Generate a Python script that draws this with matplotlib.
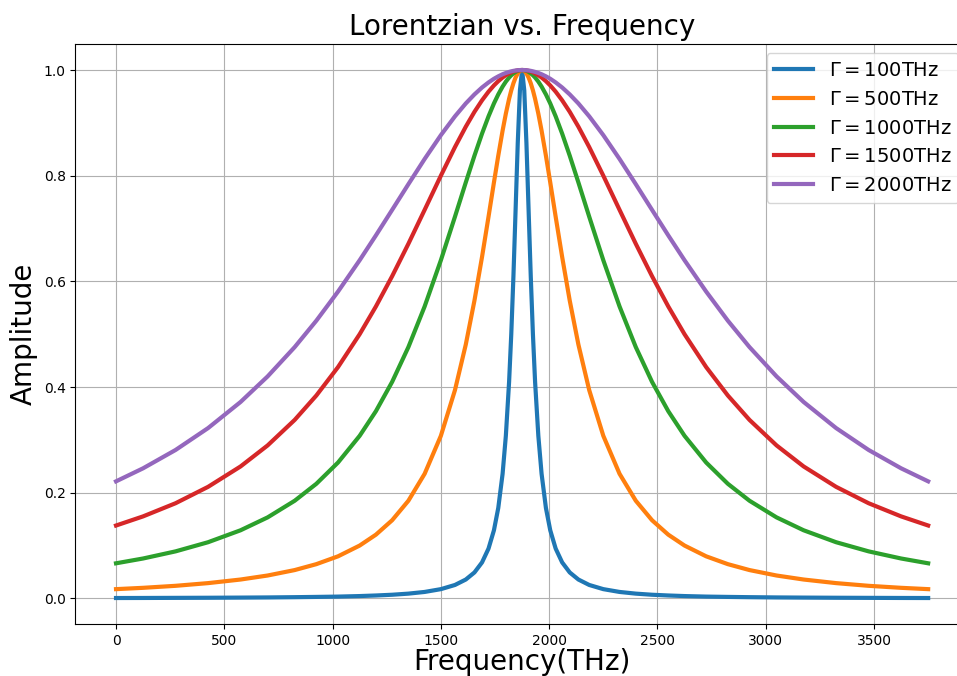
import matplotlib
matplotlib.use('Agg')
import matplotlib.pyplot as plt

# frequency samples (THz), denser around the peak at ~1875
freq = [0, 125, 275, 425, 575, 700, 825, 925, 1025, 1125, 1200, 1275, 1350,
        1425, 1500, 1565, 1615, 1655, 1690, 1720, 1745, 1765, 1785, 1800,
        1815, 1825, 1835, 1845, 1855, 1865, 1875,
        1885, 1895, 1905, 1915, 1925, 1935, 1950, 1965, 1985, 2005, 2030,
        2060, 2095, 2135, 2185, 2250, 2325, 2400, 2475, 2550, 2625, 2725,
        2825, 2925, 3050, 3175, 3325, 3475, 3625, 3750]

widths = [100, 500, 1000, 1500, 2000]

amp_100 = [0.0007, 0.0008, 0.0010, 0.0012, 0.0015, 0.0018, 0.0023, 0.0028,
           0.0034, 0.0044, 0.0055, 0.0069, 0.0090, 0.0122, 0.0175, 0.0254,
           0.0357, 0.0491, 0.0681, 0.0943, 0.1289, 0.1712, 0.2358, 0.3077,
           0.4098, 0.5000, 0.6098, 0.7353, 0.8621, 0.9615, 1.0,
           0.9615, 0.8621, 0.7353, 0.6098, 0.5000, 0.4098, 0.3077, 0.2358,
           0.1712, 0.1289, 0.0943, 0.0681, 0.0491, 0.0357, 0.0254, 0.0175,
           0.0122, 0.0090, 0.0069, 0.0055, 0.0044, 0.0034, 0.0028, 0.0023,
           0.0018, 0.0015, 0.0012, 0.0010, 0.0008, 0.0007]
amp_500 = [0.0175, 0.0200, 0.0238, 0.0289, 0.0357, 0.0433, 0.0536, 0.0648,
           0.0796, 0.1000, 0.1206, 0.1479, 0.1848, 0.2358, 0.3077, 0.3941,
           0.4804, 0.5636, 0.6462, 0.7223, 0.7872, 0.8378, 0.8853, 0.9174,
           0.9455, 0.9615, 0.9750, 0.9858, 0.9936, 0.9984, 1.0,
           0.9984, 0.9936, 0.9858, 0.9750, 0.9615, 0.9455, 0.9174, 0.8853,
           0.8378, 0.7872, 0.7223, 0.6462, 0.5636, 0.4804, 0.3941, 0.3077,
           0.2358, 0.1848, 0.1479, 0.1206, 0.1000, 0.0796, 0.0648, 0.0536,
           0.0433, 0.0357, 0.0289, 0.0238, 0.0200, 0.0175]
amp_1000 = [0.0664, 0.0755, 0.0890, 0.1063, 0.1289, 0.1533, 0.1848, 0.2169,
            0.2571, 0.3077, 0.3543, 0.4098, 0.4756, 0.5525, 0.6400, 0.7223,
            0.7872, 0.8378, 0.8796, 0.9123, 0.9367, 0.9538, 0.9686, 0.9780,
            0.9858, 0.9901, 0.9936, 0.9964, 0.9984, 0.9996, 1.0,
            0.9996, 0.9984, 0.9964, 0.9936, 0.9901, 0.9858, 0.9780, 0.9686,
            0.9538, 0.9367, 0.9123, 0.8796, 0.8378, 0.7872, 0.7223, 0.6400,
            0.5525, 0.4756, 0.4098, 0.3543, 0.3077, 0.2571, 0.2169, 0.1848,
            0.1533, 0.1289, 0.1063, 0.0890, 0.0755, 0.0664]
amp_1500 = [0.1379, 0.1552, 0.1801, 0.2111, 0.2497, 0.2895, 0.3378, 0.3840,
            0.4377, 0.5000, 0.5525, 0.6098, 0.6711, 0.7353, 0.8000, 0.8541,
            0.8927, 0.9208, 0.9426, 0.9590, 0.9708, 0.9789, 0.9858, 0.9901,
            0.9936, 0.9956, 0.9972, 0.9984, 0.9993, 0.9998, 1.0,
            0.9998, 0.9993, 0.9984, 0.9972, 0.9956, 0.9936, 0.9901, 0.9858,
            0.9789, 0.9708, 0.9590, 0.9426, 0.9208, 0.8927, 0.8541, 0.8000,
            0.7353, 0.6711, 0.6098, 0.5525, 0.5000, 0.4377, 0.3840, 0.3378,
            0.2895, 0.2497, 0.2111, 0.1801, 0.1552, 0.1379]
amp_2000 = [0.2215, 0.2462, 0.2809, 0.3223, 0.3717, 0.4201, 0.4756, 0.5256,
            0.5806, 0.6400, 0.6870, 0.7353, 0.7839, 0.8316, 0.8767, 0.9123,
            0.9367, 0.9538, 0.9669, 0.9765, 0.9834, 0.9880, 0.9920, 0.9944,
            0.9964, 0.9975, 0.9984, 0.9991, 0.9996, 0.9999, 1.0,
            0.9999, 0.9996, 0.9991, 0.9984, 0.9975, 0.9964, 0.9944, 0.9920,
            0.9880, 0.9834, 0.9765, 0.9669, 0.9538, 0.9367, 0.9123, 0.8767,
            0.8316, 0.7839, 0.7353, 0.6870, 0.6400, 0.5806, 0.5256, 0.4756,
            0.4201, 0.3717, 0.3223, 0.2809, 0.2462, 0.2215]

series = [amp_100, amp_500, amp_1000, amp_1500, amp_2000]
colors = ["#1f77b4", "#ff7f0e", "#2ca02c", "#d62728", "#9467bd"]

fig = plt.figure(figsize=(9.57, 6.76), dpi=100)
ax = fig.add_axes([0.0788, 0.0763, 0.9335, 0.8592])

for g, amp, c in zip(widths, series, colors):
    ax.plot(freq, amp, color=c, linewidth=3, label=r"$\Gamma = %d$THz" % g)

ax.set_title("Lorentzian vs. Frequency", fontsize=20)
ax.set_xlabel("Frequency(THz)", fontsize=20, labelpad=0)
ax.set_ylabel("Amplitude", fontsize=20)
ax.grid(True, color="#b0b0b0", linewidth=0.8)
ax.tick_params(labelsize=10)
ax.legend(loc="upper right", fontsize=14)

fig.savefig("out.png", dpi=100)
